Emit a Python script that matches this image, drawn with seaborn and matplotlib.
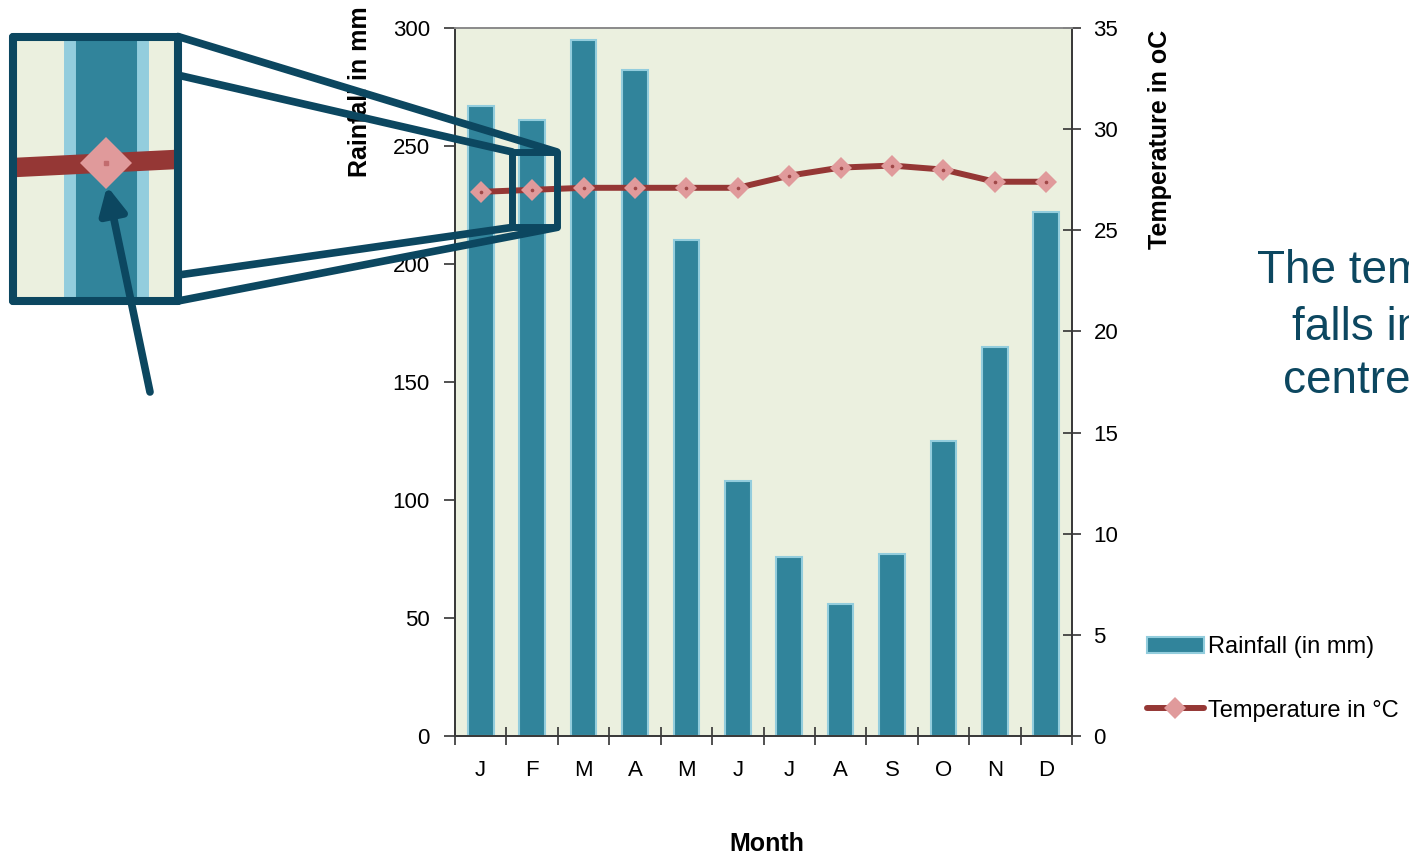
import numpy as np
import pandas as pd
import matplotlib.pyplot as plt
import seaborn as sns
from matplotlib.patches import Rectangle, ConnectionPatch

# data
months = ['Jan', 'Feb', 'Mar', 'Apr', 'May', 'Jun', 'Jul', 'Aug', 'Sep', 'Oct', 'Nov', 'Dec']
month_labels = ['J', 'F', 'M', 'A', 'M', 'J', 'J', 'A', 'S', 'O', 'N', 'D']
rainfall = [267, 261, 295, 282, 210, 108, 76, 56, 77, 125, 165, 222]
temperature = [26.9, 27.0, 27.1, 27.1, 27.1, 27.1, 27.7, 28.1, 28.2, 28.0, 27.4, 27.4]

bar_color = '#31849b'
bar_edge = '#93cddd'
line_color = '#953735'
marker_color = '#e09a9b'
bg_color = '#ebf0df'
teal = '#0c4760'

sns.set_theme(style='ticks')
plt.rcParams['font.family'] = ['Liberation Sans', 'DejaVu Sans']
plt.rcParams['text.color'] = 'black'
plt.rcParams['axes.labelcolor'] = 'black'
plt.rcParams['xtick.color'] = 'black'
plt.rcParams['ytick.color'] = 'black'

df = pd.DataFrame({'month': months, 'rainfall': rainfall, 'temperature': temperature})
pos = np.arange(len(months))

W, H = 1409, 856
fig = plt.figure(figsize=(W / 100, H / 100), dpi=100)


def px_box(x0, y0, x1, y1):
    return [x0 / W, (H - y1) / H, (x1 - x0) / W, (y1 - y0) / H]


# main chart
ax = fig.add_axes(px_box(455, 28, 1072, 736))
ax.set_facecolor(bg_color)
sns.barplot(data=df, x='month', y='rainfall', ax=ax, color=bar_color, saturation=1,
            width=0.5, edgecolor=bar_edge, linewidth=1.5)
ax2 = ax.twinx()
sns.lineplot(x=pos, y=df['temperature'], ax=ax2, color=line_color, lw=4.3,
             marker='D', markersize=11, markerfacecolor=marker_color,
             markeredgecolor=marker_color, markeredgewidth=0)
ax2.plot(pos, df['temperature'], ls='none', marker='o', ms=1.6, color='#a04848')

ax.set_xlim(-0.5, 11.5)
ax.set_ylim(0, 300)
ax2.set_ylim(0, 35)
ax.set_yticks(range(0, 301, 50))
ax2.set_yticks(range(0, 36, 5))
ax.set_xticks(np.arange(-0.5, 12, 1), labels=[''] * 13)
ax.set_xticks(pos, labels=month_labels, minor=True)

ax.tick_params(axis='x', which='major', direction='inout', length=13, width=1.2, color='#333333')
ax.tick_params(axis='x', which='minor', length=0, pad=17, labelsize=16)
ax.tick_params(axis='y', direction='out', length=8, width=1.2, pad=10, labelsize=16, color='#333333')
ax2.tick_params(axis='y', direction='inout', length=13, width=1.2, pad=9, labelsize=16, color='#333333')

for a in (ax, ax2):
    for side in ('left', 'bottom', 'right'):
        a.spines[side].set_color('#3a3a3a')
        a.spines[side].set_linewidth(1.3)
    a.spines['top'].set_color('#8c8c8c')
    a.spines['top'].set_linewidth(1.3)

ax.set_xlabel('Month', fontsize=18, fontweight='bold')
ax.xaxis.set_label_coords(0.506, -0.136)
ax.set_ylabel('Rainfall in mm', fontsize=18, fontweight='bold')
ax.yaxis.set_label_coords(-0.135, 0.91)
ax2.set_ylabel('Temperature in oC', fontsize=18, fontweight='bold')
ax2.yaxis.set_label_coords(1.123, 0.843)

# legend
fig.legend([ax.patches[0], ax2.lines[0]], ['Rainfall (in mm)', 'Temperature in °C'],
           loc='center left', bbox_to_anchor=(1147 / W, (H - 679) / H), frameon=False,
           fontsize=17, handlelength=2.4, handletextpad=0.2, labelspacing=1.75,
           borderpad=0, borderaxespad=0, numpoints=1)

# side note (runs off the right edge, as in the source)
note_lines = ['The temperature line', 'falls in the', 'centre of the bar']
note_x = [1257, 1292, 1283]
note_y = [283, 340, 393]
for txt, nx, ny in zip(note_lines, note_x, note_y):
    fig.text(nx / W, (H - ny) / H, txt, fontsize=33, color=teal, va='baseline', ha='left')

# zoomed inset of February
ax_in = fig.add_axes(px_box(12.5, 36.5, 178, 301))
ax_in.set_facecolor(bg_color)
sns.barplot(data=df, x='month', y='rainfall', ax=ax_in, color=bar_color, saturation=1,
            width=0.5, edgecolor=bar_edge, linewidth=8.6)
ax_in_t = ax_in.twinx()
sns.lineplot(x=pos, y=df['temperature'], ax=ax_in_t, color=line_color, lw=14,
             marker='D', markersize=26.5, markerfacecolor=marker_color,
             markeredgecolor=marker_color, markeredgewidth=0)
ax_in_t.plot(pos, df['temperature'], ls='none', marker='s', ms=3, color='#c26c6e')
ax_in.set_xlim(0.36, 1.49)
ax_in.set_ylim(200, 250)
ax_in_t.set_ylim(25.1, 28.74)
for a in (ax_in, ax_in_t):
    a.set_xticks([])
    a.set_yticks([])
    a.set_xlabel('')
    a.set_ylabel('')
for s in ax_in.spines.values():
    s.set_visible(False)
for s in ax_in_t.spines.values():
    s.set_visible(True)
    s.set_color(teal)
    s.set_linewidth(5.8)
    s.set_capstyle('round')

# source rectangle on the main chart
x0, x1 = 0.61, 1.48
y0, y1 = 215.5, 247.5
ax2.add_patch(Rectangle((x0, y0), x1 - x0, y1 - y0, transform=ax.transData, fill=False,
                        edgecolor=teal, lw=5, joinstyle='round', zorder=10, clip_on=False))

links = [((1, 1.0), (x1, y1)), ((1, 0.854), (x0, y1)),
         ((1, 0.098), (x0, y0)), ((1, 0.0), (x1, y0))]
for a_pt, b_pt in links:
    con = ConnectionPatch(xyA=a_pt, coordsA=ax_in.transAxes, xyB=b_pt, coordsB=ax.transData,
                          color=teal, lw=5.5, capstyle='round', zorder=5)
    fig.add_artist(con)

# arrow pointing at the marker
fig.add_artist(ConnectionPatch(xyA=(150, H - 392), coordsA='figure pixels',
                               xyB=(107, H - 186), coordsB='figure pixels',
                               arrowstyle='-|>', mutation_scale=40, color=teal, lw=5.5,
                               zorder=6))

fig.savefig('out.png', dpi=100)
